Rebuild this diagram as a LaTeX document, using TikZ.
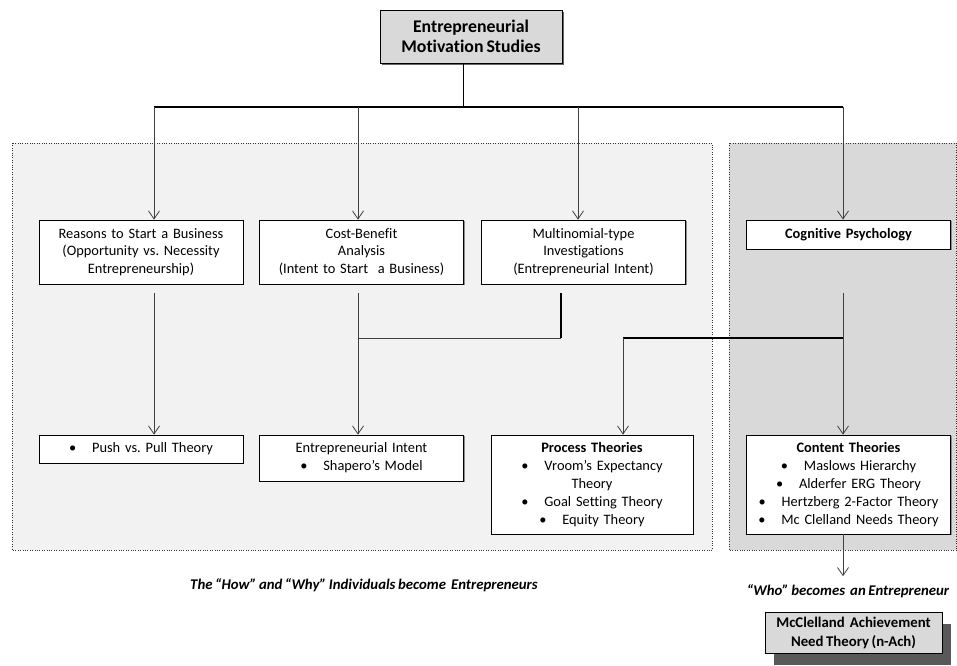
\documentclass[tikz,border=0pt]{standalone}
\usepackage{fontspec}
\setmainfont{Carlito}[Ligatures=NoCommon, WordSpace=0.75]
\frenchspacing
\usetikzlibrary{positioning, arrows.meta, shadows}
\definecolor{panelgray}{HTML}{F2F2F2}
\definecolor{boxgray}{HTML}{D9D9D9}

\begin{document}
\begin{tikzpicture}[x=1pt, y=-1pt,
    every node/.style={font=\fontsize{14.4}{17.8}\selectfont, align=center},
    framed/.style={draw=black, line width=0.8pt, inner sep=3pt},
    box/.style={framed, fill=white, minimum width=204pt, text width=198pt,
        drop shadow={shadow xshift=1.2pt, shadow yshift=-1.2pt, fill=black!45, opacity=1}},
    headbox/.style={framed, fill=boxgray, font=\fontsize{17.8}{20}\selectfont\bfseries},
    panel/.style={draw=black!80, dotted, fill=#1},
    arrow/.style={-{Straight Barb[length=8pt, width=11pt]}, draw=black!75, line width=0.8pt},
    thinline/.style={draw=black!75, line width=0.9pt},
    link/.style={draw=black, line width=1.7pt},
    caption/.style={font=\fontsize{14.8}{16}\selectfont\bfseries\itshape}
]
\useasboundingbox (0,0) rectangle (957,665);

% grouping panels
\draw[panel=panelgray] (12,143) rectangle (712,550);
\draw[panel=boxgray] (729,143) rectangle (956.5,550);

% top
\node[headbox, minimum width=182pt, minimum height=53pt,
      drop shadow={shadow xshift=1.5pt, shadow yshift=-1.5pt, fill=black!60, opacity=1}] (motiv) at (471,36.5) {Entrepreneurial\\Motivation Studies};

% first row
\node[box, minimum height=64pt] (reasons) at (141,252) {Reasons to Start a Business\\(Opportunity vs. Necessity\\Entrepreneurship)};
\node[box, minimum height=64pt] (costben) at (361.5,252) {Cost-Benefit\\Analysis\\(Intent to Start\ \ a Business)};
\node[box, minimum height=64pt] (multi) at (583.5,252) {Multinomial-type\\Investigations\\(Entrepreneurial Intent)};
\node[box, minimum height=29pt] (cogpsy) at (848.5,234.5) {\textbf{Cognitive Psychology}};

% second row
\node[box, minimum height=28pt] (pushpull) at (141,449) {•\hspace{1.1em}Push vs. Pull Theory};
\node[box, minimum height=46pt] (intent) at (361.5,458) {Entrepreneurial Intent\\•\hspace{1.1em}Shapero’s Model};
\node[box, minimum height=99pt, minimum width=202pt, text width=196pt] (process) at (592,484.5) {\textbf{Process Theories}\\•\hspace{1.1em}Vroom’s Expectancy\\Theory\\•\hspace{1.1em}Goal Setting Theory\\•\hspace{1.1em}Equity Theory};
\node[box, minimum height=99pt] (content) at (848.5,484.5) {\textbf{Content Theories}\\•\hspace{1.1em}Maslows Hierarchy\\•\hspace{1.1em}Alderfer ERG Theory\\•\hspace{1.1em}Hertzberg 2-Factor Theory\\•\hspace{1.1em}Mc Clelland Needs Theory};

% captions
\node[caption] (howwhy) at (364,585) {The “How” and “Why” Individuals become\ \ Entrepreneurs};
\node[caption, inner ysep=8pt] (who) at (848,591) {“Who” becomes\ \ an Entrepreneur};
\node[headbox, font=\fontsize{14.8}{19}\selectfont\bfseries, minimum width=177pt, minimum height=41pt,
      drop shadow={shadow xshift=9pt, shadow yshift=-12pt, fill=black!65, opacity=1}] (mccl) at (853.5,632.5) {McClelland\ \ Achievement\\Need Theory (n-Ach)};

% bus
\coordinate (hub) at (463,107);
\draw[thinline, draw=black] (motiv.south -| hub) -- (hub);
\coordinate (b1) at (154,107);
\coordinate (b2) at (358,107);
\coordinate (b3) at (578,107);
\coordinate (b4) at (843,107);
\draw[link, line width=1.4pt] (b1) -- (b4);
\foreach \i/\tgt in {1/reasons, 2/costben, 3/multi, 4/cogpsy}
    \draw[arrow] (b\i) -- (b\i |- \tgt.north);

% lower links
\coordinate (reasonsout) at (154,293);
\coordinate (costout) at (358,293);
\coordinate (multiout) at (561,293);
\coordinate (cogout) at (843,293);
\coordinate (costjoin) at (358,338);
\coordinate (multijoin) at (561,338);
\coordinate (procin) at (623,338);

\draw[arrow] (reasonsout) -- (reasonsout |- pushpull.north);
\draw[arrow] (costout) -- (costout |- intent.north);
\draw[link] (multiout) -- (multijoin);
\draw[thinline] (multijoin) -- (costjoin);
\draw[arrow] (cogout) -- (cogout |- content.north);
\draw[link] (cogout |- procin) -- (procin);
\draw[arrow] (procin) -- (procin |- process.north);
\draw[arrow] (content.south -| cogout) -- (cogout |- who.north);

\end{tikzpicture}
\end{document}
